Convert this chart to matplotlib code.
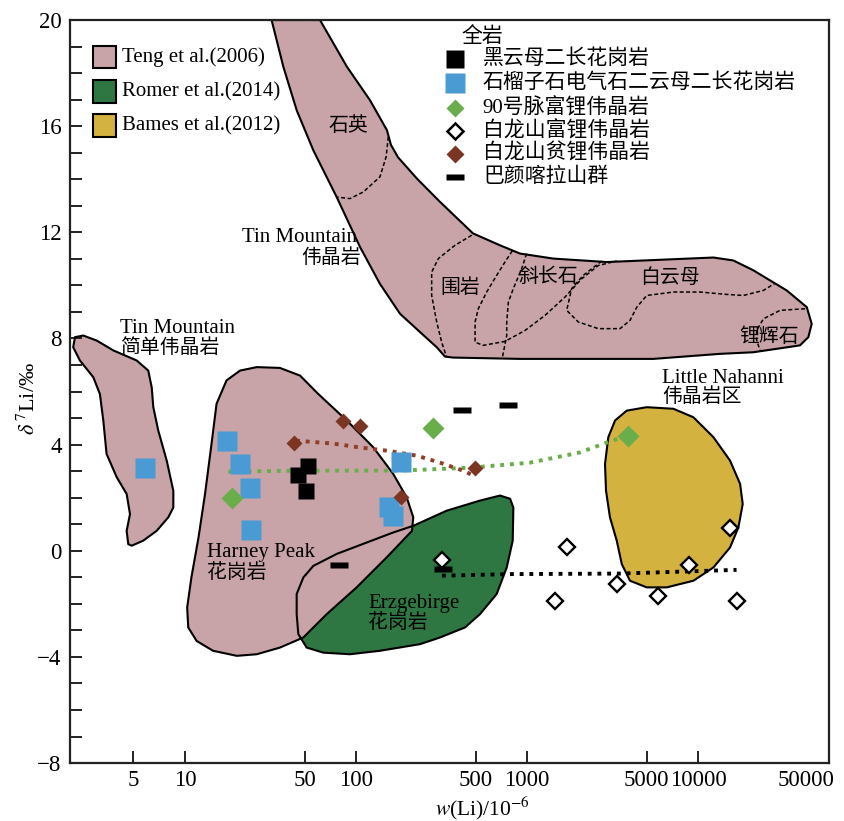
import numpy as np
import matplotlib.pyplot as plt
from matplotlib.patches import Polygon, Rectangle
from matplotlib.ticker import NullLocator
from matplotlib.transforms import ScaledTranslation

plt.rcParams['font.family'] = ['Liberation Serif', 'Noto Sans CJK SC']
plt.rcParams['mathtext.fontset'] = 'stix'

# ---- whole-rock samples: w(Li) /10^-6 and d7Li /permil ----
bt_li = [52.6, 46.0, 50.8]                      # 黑云母二长花岗岩
bt_d7 = [3.21, 2.87, 2.24]
grt_li = [5.84, 17.5, 21.0, 24.0, 24.2, 183, 155, 164]   # 石榴子石电气石二云母二长花岗岩
grt_d7 = [3.12, 4.12, 3.27, 2.35, 0.78, 3.33, 1.63, 1.32]
v90_li = [18.8, 283, 3880]                      # 90号脉富锂伟晶岩
v90_d7 = [1.99, 4.63, 4.34]
rich_li = [317, 1706, 1460, 3375, 5860, 8890, 15400, 16800]   # 白龙山富锂伟晶岩
rich_d7 = [-0.35, 0.15, -1.89, -1.26, -1.70, -0.54, 0.84, -1.89]
poor_li = [43.4, 84.4, 106, 184, 497]           # 白龙山贫锂伟晶岩
poor_d7 = [4.05, 4.90, 4.72, 2.01, 3.12]
bykl_li = [415, 771, 79.8, 321]                 # 巴颜喀拉山群
bykl_d7 = [5.31, 5.50, -0.53, -0.68]

# evolution trends (hand-drawn)
v90_trend_li = [17.9, 47.0, 181, 464, 1042, 2030, 2940, 3860]
v90_trend_d7 = [2.98, 3.02, 3.02, 3.13, 3.32, 3.70, 4.08, 4.34]
poor_trend_li = [44.6, 73.4, 106, 152, 228, 310, 422, 489]
poor_trend_d7 = [4.15, 4.04, 3.89, 3.77, 3.58, 3.32, 3.02, 2.83]
rich_trend_li = [318, 795, 3500, 8560, 16800]
rich_trend_d7 = [-0.94, -0.88, -0.86, -0.78, -0.72]

# ---- literature fields ----
# Tin Mountain pegmatite band (Teng et al. 2006)
band_li = [32.1, 61.6, 88.5, 120.7, 151.7, 160.0, 176.0, 227.5, 309.6, 483, 695, 910, 1426, 2924,
           12300, 16080, 21040, 33000, 43250, 46200, 44160, 39470, 21040, 13450, 5480, 910, 369,
           331, 296.5, 236.8, 180.9, 138, 105.5, 77.1, 56.3, 45.0, 37.6]
band_d7 = [20.0, 20.0, 18.24, 16.98, 15.85, 15.30, 14.83, 14.02, 13.15, 11.96, 11.51, 11.20, 11.01, 10.88,
           11.05, 10.94, 10.57, 9.81, 9.18, 8.55, 8.05, 7.74, 7.48, 7.42, 7.23, 7.23, 7.28,
           7.32, 7.67, 8.24, 8.93, 10.06, 11.45, 13.33, 15.09, 16.6, 18.24]
# mineral zones inside the band
quartz_li = [154.5, 150, 138, 110.4, 92.2, 77.1]
quartz_d7 = [15.6, 14.84, 14.09, 13.52, 13.27, 13.33]
wall_li = [475, 379, 303, 277, 277, 296.5, 317, 339]
wall_d7 = [11.89, 11.51, 11.01, 10.50, 9.62, 8.62, 7.86, 7.29]
loop_li = [820, 743, 665, 581, 519, 497, 497, 555, 743, 973, 1274, 1667, 2089, 2612, 3347]
loop_d7 = [11.30, 10.88, 10.38, 9.75, 9.12, 8.62, 7.86, 7.74, 7.89, 8.30, 8.87, 9.56, 10.25, 10.75, 10.92]
plag_li = [995, 931, 832, 778, 761, 761, 717]
plag_d7 = [11.2, 10.63, 9.88, 9.37, 8.62, 8.11, 7.27]
musc_li = [2735, 2134, 1825, 1706, 1995, 2612, 3500, 4000, 4385, 5012, 7178, 10280, 14720, 18400, 24100, 28200]
musc_d7 = [10.92, 10.38, 9.88, 9.06, 8.62, 8.37, 8.37, 8.68, 9.18, 9.62, 9.75, 9.75, 9.66, 9.62, 9.81, 10.08]
spod_li = [42270, 30200, 24100, 22030, 22030, 23070]
spod_d7 = [9.12, 9.06, 8.74, 8.30, 7.92, 7.55]

# Tin Mountain simple pegmatite
tm_li = [2.275, 2.54, 3.05, 3.81, 5.22, 6.10, 6.39, 6.53, 6.98, 7.82, 8.55, 8.55, 7.99, 6.83,
         5.70, 4.88, 4.66, 4.56, 4.77, 4.56, 3.99, 3.48, 3.33, 3.18, 2.91, 2.43, 2.22]
tm_d7 = [8.05, 8.11, 7.92, 7.55, 7.17, 6.79, 6.16, 5.41, 4.53, 3.40, 2.26, 1.63, 1.26, 0.75,
         0.38, 0.19, 0.25, 0.75, 1.38, 2.14, 2.77, 3.65, 4.91, 5.91, 6.54, 7.17, 7.67]
# Harney Peak granite
hp_li = [26.3, 35.9, 47.1, 59.9, 88.3, 126.2, 165.3, 197.9, 216.3, 212.5, 151.2, 100.9, 67.4, 49.2,
         35.9, 26.3, 20.1, 14.6, 11.7, 10.45, 10.3, 10.9, 12.0, 13.1, 14.3, 15.3, 17.5, 21.0]
hp_d7 = [6.92, 6.89, 6.60, 5.92, 4.91, 3.90, 2.89, 2.01, 1.26, 0.75, -0.25, -1.38, -2.39, -3.27,
         -3.65, -3.90, -3.96, -3.77, -3.40, -2.89, -2.14, -1.01, 0.50, 2.14, 4.03, 5.54, 6.42, 6.79]
# Erzgebirge granite (Romer et al. 2014)
erz_li = [216.3, 339, 531, 695, 796, 832, 825, 761, 665, 531, 434, 309.6, 236.8, 138, 92.2, 64.4,
          51.5, 46.0, 45.0, 45.0, 49.2, 56.3, 77.1, 115.5, 165.3]
erz_d7 = [0.94, 1.51, 1.89, 2.08, 1.96, 1.63, 0.38, -0.63, -1.63, -2.39, -2.89, -3.27, -3.52, -3.77, -3.90, -3.84,
          -3.65, -3.14, -2.39, -1.63, -1.01, -0.57, -0.12, 0.31, 0.69]
# Little Nahanni pegmatite group (Bames et al. 2012)
ln_li = [3828, 5012, 7178, 9397, 12300, 15380, 17620, 18250, 17220, 15380, 12300, 9397, 6561, 5012,
         4000, 3581, 3347, 3055, 2897, 2858, 2988, 3273]
ln_d7 = [5.28, 5.41, 5.35, 5.03, 4.28, 3.40, 2.52, 1.76, 0.88, 0.12, -0.63, -1.13, -1.38, -1.38,
         -1.13, -0.50, 0.38, 1.26, 2.26, 3.27, 4.28, 4.91]

xticks = [5, 10, 50, 100, 500, 1000, 5000, 10000, 50000]
xticklabels = ['5', '10', '50', '100', '500', '1000', '5000', '10000', '50000']
yticks = [-8, -4, 0, 4, 8, 12, 16, 20]

ref_labels = ['Teng et al.(2006)', 'Romer et al.(2014)', 'Bames et al.(2012)']
pink, green, gold = '#C8A3A7', '#2E7743', '#D4B23F'
ref_colors = [pink, green, gold]

c_blue, c_green, c_brown = '#4A9AD4', '#6AAD4B', '#7B3522'
dash = [(-1, -0.35), (1, -0.35), (1, 0.35), (-1, 0.35), (-1, -0.35)]

fig = plt.figure(figsize=(8.44, 8.21), dpi=100)
ax = fig.add_axes([0.0829, 0.0706, 0.8993, 0.905])
ax.set_xscale('log')
ax.set_xlim(2.126, 58300)
ax.set_ylim(-8, 20)


def field(li, d7, color, z):
    ax.add_patch(Polygon(np.column_stack([li, d7]), closed=True, fc=color, ec='none', zorder=z))


def outline(li, d7):
    ax.add_patch(Polygon(np.column_stack([li, d7]), closed=True, fill=False, ec='black',
                         lw=1.5, joinstyle='round', zorder=2.5))


field(erz_li, erz_d7, green, 1.0)
field(hp_li, hp_d7, pink, 1.1)
field(tm_li, tm_d7, pink, 1.1)
field(band_li, band_d7, pink, 1.1)
field(ln_li, ln_d7, gold, 1.1)
for li, d7 in [(erz_li, erz_d7), (hp_li, hp_d7), (tm_li, tm_d7), (band_li, band_d7), (ln_li, ln_d7)]:
    outline(li, d7)

for li, d7 in [(quartz_li, quartz_d7), (wall_li, wall_d7), (loop_li, loop_d7),
               (plag_li, plag_d7), (musc_li, musc_d7), (spod_li, spod_d7)]:
    ax.plot(li, d7, color='black', lw=1.1, ls=(0, (2.6, 1.6)), zorder=2.6)

# trends
dot = (0, (1.0, 1.5))
ax.plot(v90_trend_li, v90_trend_d7, color=c_green, lw=2.8, ls=dot, zorder=4)
ax.plot(poor_trend_li, poor_trend_d7, color='#8E3E25', lw=2.8, ls=dot, zorder=4)
ax.plot(rich_trend_li, rich_trend_d7, color='black', lw=2.8, ls=dot, zorder=4)

# samples
ax.plot(bt_li, bt_d7, ls='none', marker='s', ms=12.2, mfc='black', mec='none', zorder=5)
ax.plot(grt_li, grt_d7, ls='none', marker='s', ms=13.7, mfc=c_blue, mec='none', zorder=5)
ax.plot(v90_li, v90_d7, ls='none', marker='D', ms=10.8, mfc=c_green, mec='none', zorder=5)
ax.plot(rich_li, rich_d7, ls='none', marker='D', ms=8.2, mfc='white', mec='black', mew=1.7, zorder=5)
ax.plot(poor_li, poor_d7, ls='none', marker='D', ms=8.4, mfc=c_brown, mec='none', zorder=5)
ax.plot(bykl_li, bykl_d7, ls='none', marker=dash, ms=13, mfc='black', mec='none', zorder=5)

# field labels
fs_en, fs_cn = 15, 14.3
ax.text(89.8, 15.97, '石英', fontsize=fs_cn, ha='center', va='center', zorder=3)
ax.text(405, 9.88, '围岩', fontsize=fs_cn, ha='center', va='center', zorder=3)
ax.text(1327, 10.28, '斜长石', fontsize=fs_cn, ha='center', va='center', zorder=3)
ax.text(6855, 10.25, '白云母', fontsize=fs_cn, ha='center', va='center', zorder=3)
ax.text(26000, 8.05, '锂辉石', fontsize=fs_cn, ha='center', va='center', zorder=3)
ax.text(101.4, 11.81, 'Tin Mountain', fontsize=fs_en, ha='right', va='center', zorder=3)
ax.text(107, 11.02, '伟晶岩', fontsize=fs_cn, ha='right', va='center', zorder=3)
ax.text(4.17, 8.37, 'Tin Mountain', fontsize=fs_en, ha='left', va='center', zorder=3)
ax.text(4.17, 7.62, '简单伟晶岩', fontsize=fs_cn, ha='left', va='center', zorder=3)
ax.text(13.4, -0.06, 'Harney Peak', fontsize=fs_en, ha='left', va='center', zorder=3)
ax.text(13.4, -0.86, '花岗岩', fontsize=fs_cn, ha='left', va='center', zorder=3)
ax.text(117.5, -2.0, 'Erzgebirge', fontsize=fs_en, ha='left', va='center', zorder=3)
ax.text(117.5, -2.75, '花岗岩', fontsize=fs_cn, ha='left', va='center', zorder=3)
ax.text(6140, 6.48, 'Little Nahanni', fontsize=fs_en, ha='left', va='center', zorder=3)
ax.text(6140, 5.78, '伟晶岩区', fontsize=fs_cn, ha='left', va='center', zorder=3)

# legend of literature fields
for fy, lab, col in zip([0.950, 0.904, 0.858], ref_labels, ref_colors):
    ax.add_patch(Rectangle((0.0299, fy - 0.015), 0.0307, 0.030, transform=ax.transAxes,
                           fc=col, ec='black', lw=1.5, zorder=6))
    ax.text(0.068, fy, lab, transform=ax.transAxes, fontsize=15, va='center', zorder=6)

# legend of samples
ax.text(0.516, 0.9775, '全岩', transform=ax.transAxes, fontsize=15, va='center', zorder=6)
items = [
    ('黑云母二长花岗岩', dict(marker='s', ms=12.7, mfc='black', mec='none')),
    ('石榴子石电气石二云母二长花岗岩', dict(marker='s', ms=13.7, mfc=c_blue, mec='none')),
    ('90号脉富锂伟晶岩', dict(marker='D', ms=9.6, mfc=c_green, mec='none')),
    ('白龙山富锂伟晶岩', dict(marker='D', ms=8.4, mfc='white', mec='black', mew=1.8)),
    ('白龙山贫锂伟晶岩', dict(marker='D', ms=9.0, mfc=c_brown, mec='none')),
    ('巴颜喀拉山群', dict(marker=dash, ms=12.5, mfc='black', mec='none')),
]
for fy, (lab, kw) in zip([0.948, 0.915, 0.881, 0.850, 0.820, 0.789], items):
    ax.plot([0.507], [fy], transform=ax.transAxes, ls='none', clip_on=False, zorder=6, **kw)
    ax.text(0.544, fy, lab, transform=ax.transAxes, fontsize=15, va='center', zorder=6)

# axes
ax.set_xticks(xticks)
ax.set_xticklabels(xticklabels)
ax.xaxis.set_minor_locator(NullLocator())
ax.xaxis.get_major_ticks()[-1].tick1line.set_visible(False)
ax.set_yticks(yticks)
ax.set_yticks(np.arange(-8, 21, 1), minor=True)
ax.tick_params(which='both', direction='in', length=8.5, width=1.4, labelsize=16.5, color='#222222')
ax.tick_params(axis='y', pad=6)
ax.tick_params(axis='x', pad=5)
for s in ax.spines.values():
    s.set_linewidth(1.6)
    s.set_color('#222222')

# last x label sits a little left of its tick so it stays inside the figure
last = ax.get_xticklabels()[-1]
last.set_transform(last.get_transform() + ScaledTranslation(-8 / 72, 0, fig.dpi_scale_trans))

ax.set_xlabel(r'$w$(Li)/10$^{-6}$', fontsize=15.5)
ax.xaxis.set_label_coords(0.544, -0.043)
ax.set_ylabel(r'$\delta^{\,7}$Li/‰', fontsize=16)
ax.yaxis.set_label_coords(-0.04, 0.49)

fig.savefig('out.png', dpi=100)
